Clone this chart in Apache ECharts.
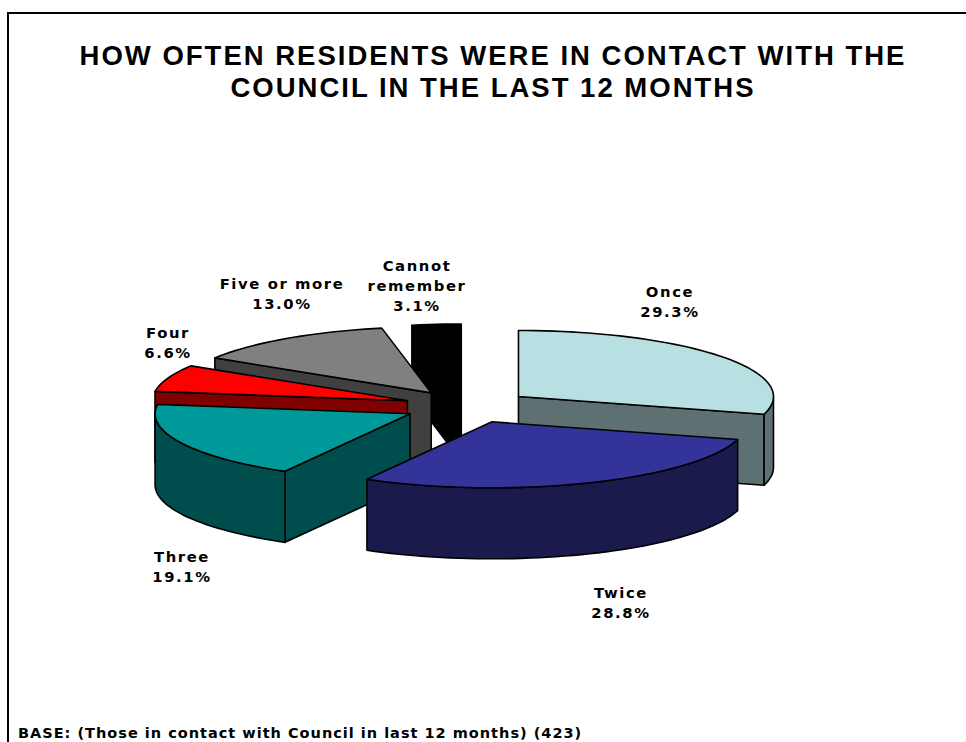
<!DOCTYPE html>
<html><head><meta charset="utf-8">
<style>html,body{margin:0;padding:0;background:#fff}#c{width:966px;height:742px}
svg text[style*="27.5px"]{letter-spacing:2px}
svg text[style*="14.8px"]{letter-spacing:1.6px}
svg text[style*="14.5px"]{letter-spacing:1px}
</style>
<script src="https://cdn.jsdelivr.net/npm/echarts@6/dist/echarts.min.js"></script>
</head><body><div id="c"></div>
<script>
const categories = ['Once', 'Twice', 'Three', 'Four', 'Five or more', 'Cannot remember'];
const values = [29.3, 28.8, 19.1, 6.6, 13.0, 3.1];
const titleText = 'HOW OFTEN RESIDENTS WERE IN CONTACT WITH THE\nCOUNCIL IN THE LAST 12 MONTHS';
const baseText = 'BASE: (Those in contact with Council in last 12 months) (423)';

// layout + style (not data)
const topColors = ['#b8e0e3', '#333399', '#009999', '#ff0000', '#808080', '#000000'];
const wallColors = ['#5e7072', '#1a1a4d', '#004d4d', '#800000', '#404040', '#000000'];
const paintRank = [4, 5, 3, 2, 1, 0];
const labelLines = ['Once', 'Twice', 'Three', 'Four', 'Five or more', 'Cannot\nremember'];
const labelCentres = [[670, 301], [621, 602], [182, 566], [168, 342], [282, 293], [417, 285]];
const pie = { cx: 467.5, cy: 406.5, rx: 255, ry: 66, depth: 71, explode: 64 };
const FONT = '"Liberation Sans", Arial, sans-serif';
const SMALL_FONT = '"DejaVu Sans", Verdana, sans-serif';

const total = values.reduce((a, b) => a + b, 0);
const starts = [];
values.reduce((acc, v, i) => { starts[i] = acc; return acc + v; }, 0);
const rad = d => d * Math.PI / 180;

function renderItem(params, api) {
  const i = params.dataIndex;
  const a0 = starts[i] / total * 360;
  const a1 = a0 + api.value(1) / total * 360;
  const mid = rad((a0 + a1) / 2);
  const ox = pie.cx + pie.explode * Math.sin(mid);
  const oy = pie.cy - pie.explode * Math.cos(mid) * pie.ry / pie.rx;
  const at = (deg, drop) => [ox + pie.rx * Math.sin(rad(deg)), oy - pie.ry * Math.cos(rad(deg)) + drop];
  const arc = (from, to, drop) => {
    const n = Math.max(2, Math.ceil(Math.abs(to - from) / 2));
    const out = [];
    for (let k = 0; k <= n; k++) out.push(at(from + (to - from) * k / n, drop));
    return out;
  };
  const base = paintRank[i] * 10;
  const stroke = { stroke: '#000', lineWidth: 1.6, lineJoin: 'round' };
  const kids = [];
  const wall = (pts, z) => kids.push({
    type: 'polygon', z2: base + z, shape: { points: pts },
    style: Object.assign({ fill: wallColors[i] }, stroke)
  });
  const cut = a => wall([[ox, oy], at(a, 0), at(a, pie.depth), [ox, oy + pie.depth]], 1);
  if (Math.sin(rad(a0)) < -1e-6) cut(a0);
  if (Math.sin(rad(a1)) > 1e-6) cut(a1);
  const f0 = Math.max(a0, 90), f1 = Math.min(a1, 270);
  if (f1 > f0) wall(arc(f0, f1, 0).concat(arc(f1, f0, pie.depth)), 2);
  kids.push({
    type: 'polygon', z2: base + 3, shape: { points: [[ox, oy]].concat(arc(a0, a1, 0)) },
    style: Object.assign({ fill: topColors[i] }, stroke)
  });
  kids.push({
    type: 'text', z2: 200, x: labelCentres[i][0], y: labelCentres[i][1],
    style: {
      text: labelLines[i] + '\n' + api.value(1).toFixed(1) + '%',
      fill: '#000', align: 'center', verticalAlign: 'middle', lineHeight: 20,
      font: 'bold 14.8px ' + SMALL_FONT
    }
  });
  return { type: 'group', children: kids };
}

const chart = echarts.init(document.getElementById('c'), null, { renderer: 'svg' });
chart.setOption({
  animation: false,
  backgroundColor: '#fff',
  title: [
    { text: titleText, left: 493, top: 39, padding: 0, textAlign: 'center',
      textStyle: { fontFamily: FONT, fontWeight: 'bold', fontSize: 27.5, lineHeight: 32, color: '#000' } },
    { text: baseText, left: 18, top: 725, padding: 0,
      textStyle: { fontFamily: SMALL_FONT, fontWeight: 'bold', fontSize: 14.5, color: '#000' } }
  ],
  graphic: [{
    type: 'polyline', silent: true,
    shape: { points: [[8, 742], [8, 13], [966, 13]] },
    style: { stroke: '#000', lineWidth: 2, fill: null }
  }],
  series: [{
    type: 'custom', coordinateSystem: 'none', silent: true, renderItem,
    data: categories.map((c, i) => ({ name: c, value: [i, values[i]] }))
  }]
});
</script></body></html>
